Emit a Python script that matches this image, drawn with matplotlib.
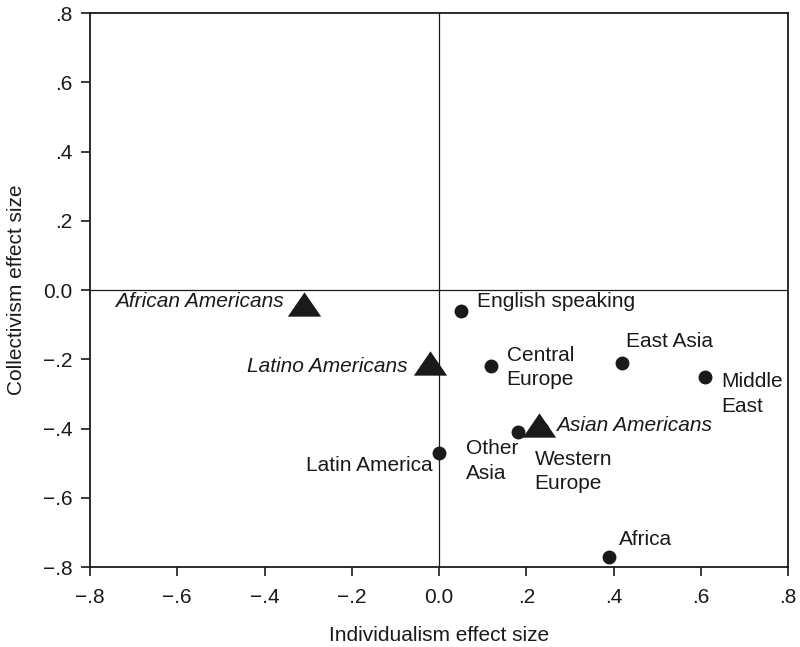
import numpy as np
import matplotlib
matplotlib.use('Agg')
import matplotlib.pyplot as plt

plt.rcParams['font.family'] = ['Liberation Sans', 'DejaVu Sans']

# regions (dots)
regions = ['English speaking', 'Central\nEurope', 'East Asia', 'Middle\nEast',
           'Other\nAsia', 'Western\nEurope', 'Latin America', 'Africa']
region_x = [0.05, 0.12, 0.42, 0.61, 0.18, 0.235, 0.00, 0.39]
region_y = [-0.06, -0.22, -0.21, -0.25, -0.41, -0.40, -0.47, -0.77]

# US minority groups (triangles)
groups = ['African Americans', 'Latino Americans', 'Asian Americans']
group_x = [-0.31, -0.02, 0.23]
group_y = [-0.04, -0.21, -0.39]

ticks = [-0.8, -0.6, -0.4, -0.2, 0.0, 0.2, 0.4, 0.6, 0.8]
tick_labels = ['\u2212.8', '\u2212.6', '\u2212.4', '\u2212.2', '0.0', '.2', '.4', '.6', '.8']

# label offsets in points (dx, dy, ha)
region_offsets = [(11.5, 6.5, 'left'), (11, -1, 'left'), (3, 15, 'left'), (11.5, -12.5, 'left'),
                  (-37, -21, 'left'), (-5, -31, 'left'), (-4.5, -9.5, 'right'), (7, 12, 'left')]
group_offsets = [(-14.5, 1.5, 'right'), (-16.5, -3, 'right'), (12, 0, 'left')]

ink = '#1a1a1a'
fs = 15

fig = plt.figure(figsize=(8, 6.47), dpi=100)
ax = fig.add_axes([0.1125, 0.1236, 0.8725, 0.8563])

ax.axhline(0, color=ink, lw=0.9, zorder=1)
ax.axvline(0, color=ink, lw=0.9, zorder=1)

ax.scatter(region_x, region_y, s=100, color=ink, zorder=3, linewidths=0)
tri = [(0, 0.73), (-1, -0.73), (1, -0.73), (0, 0.73)]
ax.scatter(group_x, group_y, s=24**2, marker=tri, color=ink, zorder=4, linewidths=0)

for name, x, y, (dx, dy, ha) in zip(regions, region_x, region_y, region_offsets):
    ax.annotate(name, (x, y), xytext=(dx, dy), textcoords='offset points',
                ha=ha, va='center', fontsize=fs, color=ink, linespacing=1.38)
for name, x, y, (dx, dy, ha) in zip(groups, group_x, group_y, group_offsets):
    ax.annotate(name, (x, y), xytext=(dx, dy), textcoords='offset points',
                ha=ha, va='center', fontsize=fs, color=ink, style='italic')

ax.set_xlim(-0.8, 0.8)
ax.set_ylim(-0.8, 0.8)
ax.set_xticks(ticks)
ax.set_xticklabels(tick_labels)
ax.set_yticks(ticks)
ax.set_yticklabels(tick_labels)
ax.tick_params(direction='out', length=6.5, width=1.2, labelsize=fs, colors=ink, pad=6)
ax.tick_params(axis='x', pad=8.5)
for sp in ax.spines.values():
    sp.set_linewidth(1.3)
    sp.set_color(ink)

ax.set_xlabel('Individualism effect size', fontsize=fs, color=ink)
ax.set_ylabel('Collectivism effect size', fontsize=fs, color=ink)
ax.xaxis.set_label_coords(0.5, -0.1065)
ax.yaxis.set_label_coords(-0.092, 0.5)

fig.savefig('out.png', dpi=100)
